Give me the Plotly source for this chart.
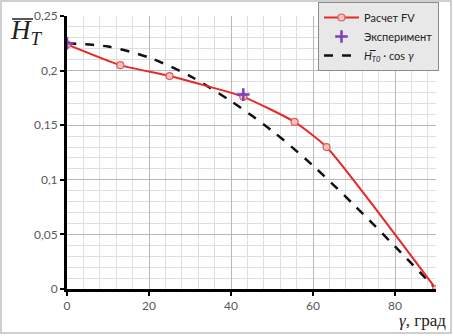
import plotly.graph_objects as go

# Data
fv_gamma = [0, 13, 25, 43, 55.5, 63.3, 90]
fv_h = [0.224, 0.205, 0.195, 0.176, 0.153, 0.130, 0.0]

exp_gamma = [0, 43]
exp_h = [0.225, 0.178]

cos_gamma = [0, 10, 20, 30, 40, 50, 60, 70, 80, 90]
cos_h = [0.225, 0.222, 0.212, 0.195, 0.172, 0.145, 0.113, 0.077, 0.039, 0.0]

y_tickvals = [0, 0.05, 0.1, 0.15, 0.2, 0.25]
y_ticktext = ["0", "0,05", "0,1", "0,15", "0,2", "0,25"]
x_tickvals = [0, 20, 40, 60, 80]
x_ticktext = ["0", "20", "40", "60", "80"]

fig = go.Figure()
fig.add_trace(go.Scatter(
    x=cos_gamma, y=cos_h, mode="lines", name="<i>H̅<sub>T0</sub></i> · cos <i>γ</i>",
    line=dict(color="#111111", width=2.5, dash="dash", shape="spline", smoothing=0.8),
    legendrank=3))
fig.add_trace(go.Scatter(
    x=fv_gamma, y=fv_h, mode="lines+markers", name="Расчет FV",
    line=dict(color="#e52a2a", width=2, shape="spline", smoothing=0.5),
    marker=dict(symbol="circle", size=7, color="#f6c2c0", line=dict(color="#e05a5a", width=1.2)),
    legendrank=1))
fig.add_trace(go.Scatter(
    x=exp_gamma, y=exp_h, mode="markers", name="Эксперимент",
    marker=dict(symbol="cross-thin", size=9, color="#7b3fbf", line=dict(color="#7b3fbf", width=2.5)),
    legendrank=2))

W, H = 453, 336
L, R, T, B = 67, 17, 16, 47
pw, ph = W - L - R, H - T - B

def px_x(p):
    return (p - L) / pw

def px_y(p):
    return (H - B - p) / ph

fig.update_layout(
    width=W, height=H,
    margin=dict(l=L, r=R, t=T, b=B, pad=0, autoexpand=False),
    paper_bgcolor="white", plot_bgcolor="white",
    font=dict(family="Lato", size=12, color="#595959"),
    showlegend=True,
    legend=dict(
        x=px_x(318), y=px_y(2), xanchor="left", yanchor="top",
        bgcolor="#e8e8e8", bordercolor="#8c8c8c", borderwidth=1,
        font=dict(family="Lato", size=11, color="#222222"),
        itemwidth=35, tracegroupgap=2,
    ),
    xaxis=dict(
        range=[0, 90], tickmode="array", tickvals=x_tickvals, ticktext=x_ticktext,
        showgrid=True, gridcolor="#b8b8b8", gridwidth=1,
        minor=dict(dtick=4, tick0=0, showgrid=True, gridcolor="#dedede", gridwidth=1),
        showline=True, linecolor="black", linewidth=3, zeroline=False,
        ticks="outside", ticklen=4, tickwidth=2, tickcolor="black",
        tickfont=dict(family="Lato", size=12, color="#595959"),
    ),
    yaxis=dict(
        range=[0, 0.25], tickmode="array", tickvals=y_tickvals, ticktext=y_ticktext,
        showgrid=True, gridcolor="#b8b8b8", gridwidth=1,
        minor=dict(dtick=0.01, tick0=0, showgrid=True, gridcolor="#dedede", gridwidth=1),
        showline=True, linecolor="black", linewidth=3, zeroline=False,
        ticks="outside", ticklen=4, tickwidth=2, tickcolor="black",
        tickfont=dict(family="Lato", size=12, color="#595959"),
    ),
    shapes=[
        dict(type="rect", xref="paper", yref="paper",
             x0=px_x(1), x1=px_x(451), y0=px_y(333), y1=px_y(1),
             line=dict(color="#c0c0c0", width=1.5), fillcolor="rgba(0,0,0,0)", layer="below"),
        dict(type="line", xref="paper", yref="paper",
             x0=px_x(12), x1=px_x(33), y0=px_y(19), y1=px_y(19),
             line=dict(color="#222222", width=1.5)),
    ],
    annotations=[
        dict(xref="paper", yref="paper", x=px_x(8), y=px_y(32), xanchor="left", yanchor="middle",
             text="<i>H<sub>T</sub></i>", showarrow=False,
             font=dict(family="Liberation Serif", size=27, color="#222222")),
        dict(xref="paper", yref="paper", x=px_x(397), y=px_y(320), xanchor="left", yanchor="middle",
             text="<i>γ</i>, град", showarrow=False,
             font=dict(family="Liberation Serif", size=17, color="#222222")),
    ],
)

fig.write_html("out.html", config={"displayModeBar": False},
               post_script="document.body.style.margin='0';document.body.style.overflow='hidden';")
